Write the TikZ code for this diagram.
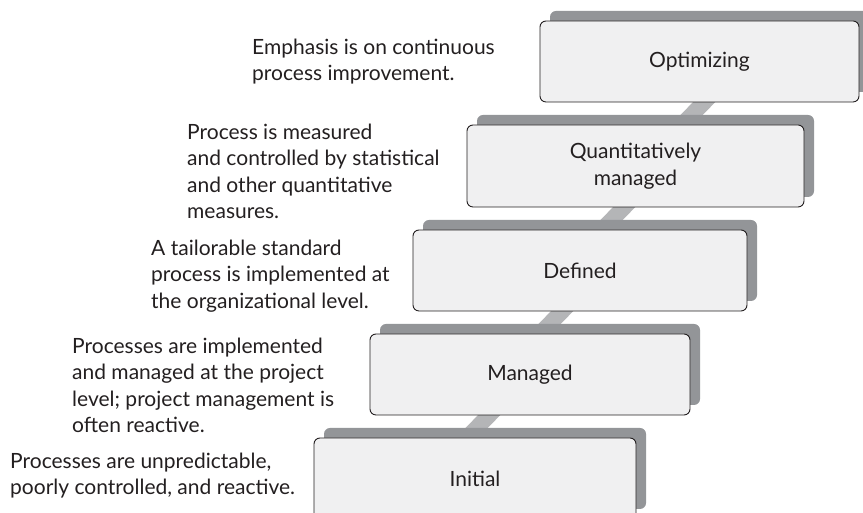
\documentclass[tikz,border=0pt]{standalone}
\usepackage{fontspec}
\setmainfont{Lato}
\usetikzlibrary{shadows,backgrounds}
\definecolor{boxfill}{RGB}{240,240,241}
\definecolor{slab}{RGB}{147,149,152}
\definecolor{rungcol}{RGB}{180,181,183}
\definecolor{ink}{RGB}{35,31,32}
\begin{document}
\begin{tikzpicture}[x=1pt,y=1pt,font=\fontsize{21}{26.5}\selectfont,text=ink,
    level/.style={draw=ink,line width=.9pt,fill=boxfill,rounded corners=6pt,align=center,inner sep=0pt,
        drop shadow={shadow xshift=10pt,shadow yshift=10pt,fill=slab,opacity=1}},
    note/.style={align=left,anchor=north west,inner sep=0pt},
    rung/.style={draw=rungcol,line width=16pt}]
    \useasboundingbox (0,0) rectangle (863,513);
    % the five levels
    \node[level,minimum width=319pt,minimum height=81pt] (opt) at (699.5,451.5) {Optimizing};
    \node[level,minimum width=337pt,minimum height=82pt] (quant) at (635.5,347) {Quantitatively\\managed};
    \node[level,minimum width=334pt,minimum height=81pt] (defd) at (580,242.5) {Defined};
    \node[level,minimum width=320pt,minimum height=81pt] (mgd) at (530,138.5) {Managed};
    \node[level,minimum width=322pt,minimum height=81pt] (init) at (475,34.5) {Initial};
    % what each level means
    \node[note] (optText) at (252,474.5) {Emphasis is on continuous\\process improvement.};
    \node[note] (quantText) at (187,389.5) {Process is measured\\and controlled by statistical\\and other quantitative\\measures.};
    \node[note] (defdText) at (151,273.5) {A tailorable standard\\process is implemented at\\the organizational level.};
    \node[note] (mgdText) at (72,175.5) {Processes are implemented\\and managed at the project\\level; project management is\\often reactive.};
    \node[note] (initText) at (10,60.5) {Processes are unpredictable,\\poorly controlled, and reactive.};
    % steps between the levels
    \begin{scope}[on background layer]
        \draw[rung] ([xshift=15.9,yshift=12]opt.south) -- ([xshift=35.25,yshift=-12]quant.north);
        \draw[rung] ([xshift=-0.1,yshift=12]quant.south) -- ([xshift=10.75,yshift=-12]defd.north);
        \draw[rung] ([xshift=-6.6,yshift=12]defd.south) -- ([xshift=-1.25,yshift=-12]mgd.north);
        \draw[rung] ([xshift=-29.6,yshift=12]mgd.south) -- ([xshift=-19.25,yshift=-12]init.north);
    \end{scope}
\end{tikzpicture}
\end{document}
